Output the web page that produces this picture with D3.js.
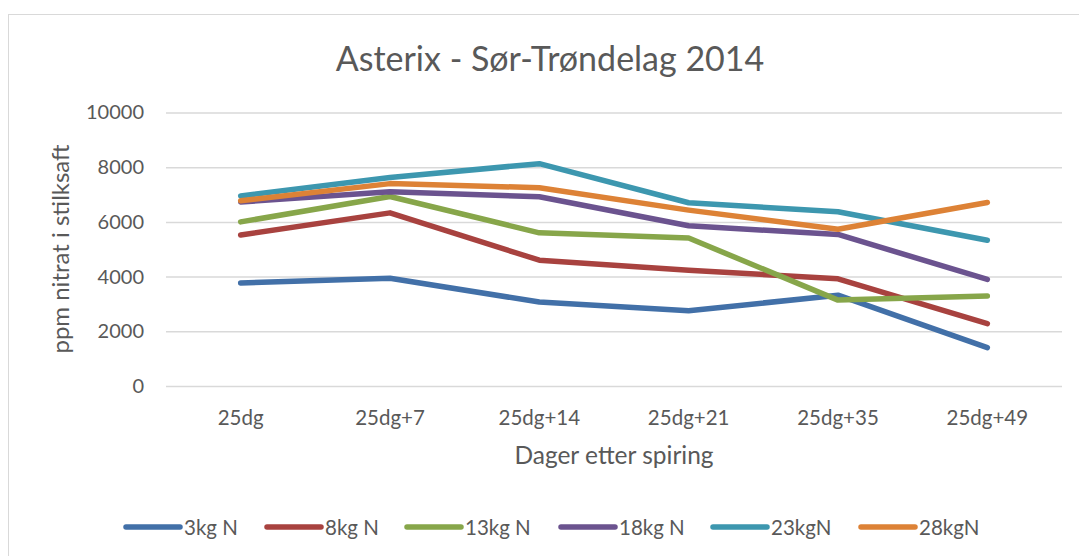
<!DOCTYPE html>
<html>
<head>
<meta charset="utf-8">
<script src="https://cdn.jsdelivr.net/npm/d3@7"></script>
<style>
  body { margin: 0; background: #fff; }
  text { font-family: Lato, "Open Sans", sans-serif; fill: #595959; }
</style>
</head>
<body>
<svg id="chart"></svg>
<script>
const WIDTH = 1079;
const HEIGHT = 556;

const categories = ["25dg", "25dg+7", "25dg+14", "25dg+21", "25dg+35", "25dg+49"];
const seriesNames = ["3kg N", "8kg N", "13kg N", "18kg N", "23kgN", "28kgN"];
const n3 = [3770, 3940, 3070, 2750, 3320, 1400];
const n8 = [5520, 6330, 4600, 4230, 3920, 2280];
const n13 = [6000, 6930, 5600, 5410, 3140, 3290];
const n18 = [6730, 7100, 6920, 5860, 5540, 3900];
const n23 = [6950, 7620, 8130, 6700, 6370, 5330];
const n28 = [6770, 7400, 7250, 6430, 5730, 6710];
const yTicks = [0, 2000, 4000, 6000, 8000, 10000];
const colors = ["#4270a8", "#a8423f", "#87a64a", "#6b538f", "#3d97af", "#dd8236"];

const series = [n3, n8, n13, n18, n23, n28].map((values, i) => ({
  name: seriesNames[i],
  values: values,
  color: colors[i],
}));

const margin = { top: 112, right: 17, bottom: 170, left: 166 };

const svg = d3.select("#chart").attr("width", WIDTH).attr("height", HEIGHT);

// chart border
svg.append("rect")
  .attr("x", 8.5).attr("y", 14.5)
  .attr("width", WIDTH + 10).attr("height", HEIGHT + 10)
  .attr("fill", "none").attr("stroke", "#d9d9d9");

const x = d3.scaleBand()
  .domain(categories)
  .range([margin.left, WIDTH - margin.right]);

const y = d3.scaleLinear()
  .domain([0, 10000])
  .range([HEIGHT - margin.bottom, margin.top + 0.5]);

// title
svg.append("text")
  .attr("x", 550).attr("y", 71)
  .attr("text-anchor", "middle")
  .style("font-size", "34px")
  .text("Asterix - Sør-Trøndelag 2014");

// gridlines + y labels
const yAxis = svg.append("g")
  .attr("transform", `translate(${margin.left},0)`)
  .call(d3.axisLeft(y).tickValues(yTicks).tickSize(-(WIDTH - margin.right - margin.left)).tickPadding(22).tickFormat(d3.format("d")));
yAxis.select(".domain").remove();
yAxis.selectAll(".tick line").attr("stroke", "#d9d9d9").attr("stroke-width", 1.5);
yAxis.selectAll(".tick text")
  .style("font-size", "20px")
  .style("font-family", "Lato, sans-serif")
  .attr("fill", "#595959");

// x labels
const xAxis = svg.append("g")
  .attr("transform", `translate(0,${HEIGHT - margin.bottom})`)
  .call(d3.axisBottom(x).tickSize(0).tickPadding(24));
xAxis.select(".domain").remove();
xAxis.selectAll(".tick text")
  .style("font-size", "20.5px")
  .style("font-family", "Lato, sans-serif")
  .attr("fill", "#595959");

// axis titles
svg.append("text")
  .attr("x", 614).attr("y", 464)
  .attr("text-anchor", "middle")
  .style("font-size", "24.5px")
  .text("Dager etter spiring");

svg.append("text")
  .attr("transform", "translate(69,249) rotate(-90)")
  .attr("text-anchor", "middle")
  .style("font-size", "24px")
  .text("ppm nitrat i stilksaft");

// lines
const line = d3.line()
  .x((d, i) => x(categories[i]) + x.bandwidth() / 2)
  .y((d) => y(d));

svg.append("g")
  .selectAll("path")
  .data(series)
  .join("path")
  .attr("d", (d) => line(d.values))
  .attr("fill", "none")
  .attr("stroke", (d) => d.color)
  .attr("stroke-width", 5.5)
  .attr("stroke-linejoin", "round")
  .attr("stroke-linecap", "round");

// legend
const legendX = [126, 267, 407, 561, 713, 861];
const legend = svg.append("g")
  .selectAll("g")
  .data(series)
  .join("g")
  .attr("transform", (d, i) => `translate(${legendX[i]},527)`);
legend.append("line")
  .attr("x1", 0).attr("x2", 54)
  .attr("stroke", (d) => d.color)
  .attr("stroke-width", 5.5)
  .attr("stroke-linecap", "round");
legend.append("text")
  .attr("x", 58).attr("y", 7.5)
  .style("font-size", "20.5px")
  .text((d) => d.name);
</script>
</body>
</html>
